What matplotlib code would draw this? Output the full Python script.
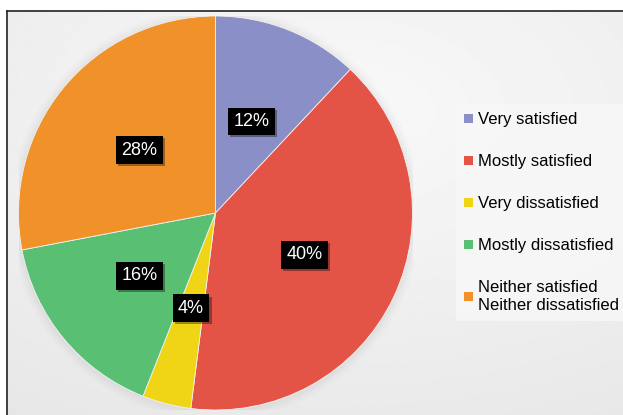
import numpy as np
import matplotlib.pyplot as plt
from matplotlib.patches import Patch
import matplotlib.patheffects as pe

plt.rcParams['font.family'] = ['Liberation Sans', 'DejaVu Sans']

# survey answers, clockwise from 12 o'clock
labels = ['Very satisfied', 'Mostly satisfied', 'Very dissatisfied',
          'Mostly dissatisfied', 'Neither satisfied\nNeither dissatisfied']
shares = [12, 40, 4, 16, 28]
colors = ['#8b8fc7', '#e35446', '#f0d517', '#59bf73', '#f0912a']

W, H = 623, 415
fig = plt.figure(figsize=(W / 100, H / 100), dpi=100)
fig.patch.set_facecolor('white')

# framed panel with a soft radial gradient
bg = fig.add_axes([7 / W, 0, 1 - 7 / W, 1 - 11 / H])
yy, xx = np.mgrid[0:1:300j, 0:1:450j]
r = np.sqrt(((xx - 0.55) / 0.9) ** 2 + ((yy - 0.25) / 0.8) ** 2)
grad = 0.975 - 0.075 * np.clip(r, 0, 1.2) / 1.2
bg.imshow(grad, cmap='gray', vmin=0, vmax=1, aspect='auto',
          extent=[0, 1, 1, 0], interpolation='bilinear')
bg.set_xticks([])
bg.set_yticks([])
for side in ['right', 'bottom']:
    bg.spines[side].set_visible(False)
for side in ['left', 'top']:
    bg.spines[side].set_color('#222222')
    bg.spines[side].set_linewidth(1.2)

R = 197
cx, cy = 215.5, H - 213
ax = fig.add_axes([(cx - R) / W, (cy - R) / H, 2 * R / W, 2 * R / H])

# faint halo behind the pie
for i, a in enumerate([0.05, 0.04, 0.03, 0.02]):
    ax.add_patch(plt.Circle((0, -0.005), 1.0 + 0.012 * (i + 1),
                            color='#9a9a9a', alpha=a, lw=0))

wedges, texts, autotexts = ax.pie(
    shares, colors=colors, startangle=90, counterclock=False,
    autopct=lambda p: f'{p:.0f}%', pctdistance=0.5, radius=1.0,
    wedgeprops=dict(edgecolor='#f2f2f2', linewidth=0.6),
    textprops=dict(color='white', fontsize=13))
ax.set_xlim(-1, 1)
ax.set_ylim(-1, 1)
ax.set_aspect('equal')
ax.axis('off')

for t in autotexts:
    t.set_bbox(dict(boxstyle='square,pad=0.3', facecolor='black',
                    edgecolor='none'))
    t.get_bbox_patch().set_path_effects(
        [pe.SimplePatchShadow(offset=(1.5, -1.5), alpha=0.35),
         pe.Normal()])

handles = [Patch(facecolor=c, edgecolor='none') for c in colors]
leg = fig.legend(handles, labels, loc='upper left',
                 bbox_to_anchor=(456 / W, 1 - 104 / H),
                 fontsize=12, frameon=True, handlelength=0.5,
                 handleheight=0.5, handletextpad=0.3, labelspacing=1.62,
                 borderpad=0.5, borderaxespad=0)
leg.get_frame().set_facecolor('#f8f8f8')
leg.get_frame().set_edgecolor('none')
leg.get_frame().set_boxstyle('square', pad=0)

fig.savefig('out.png', dpi=100)
